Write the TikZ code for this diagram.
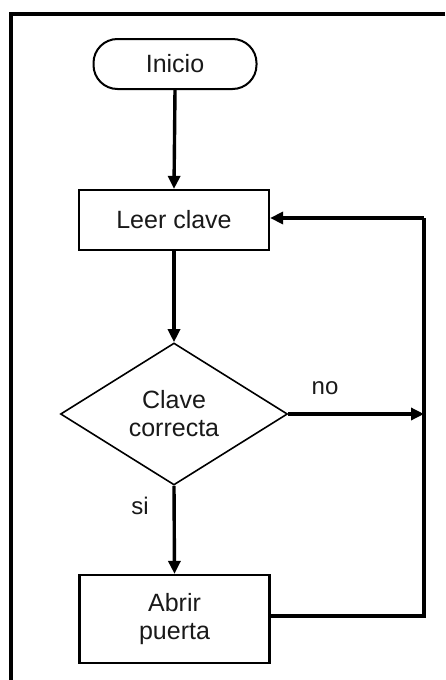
\documentclass[tikz,border=0pt]{standalone}
\usepackage{fontspec}
\setmainfont{Liberation Sans}
\usetikzlibrary{shapes.geometric,arrows.meta}

\tikzset{
  flowtext/.style={font=\fontsize{25}{28}\selectfont, text=black!90, align=center, inner sep=0pt},
  terminal/.style={flowtext, draw, line width=2pt, rounded corners=24pt,
    minimum width=163pt, minimum height=50pt},
  procbox/.style={flowtext, draw, line width=2.2pt, minimum width=190pt},
  decision/.style={flowtext, draw, diamond, line width=1.6pt,
    minimum width=227pt, minimum height=142pt},
  flowarrow/.style={line width=3.4pt, -{Triangle[length=13pt,width=12pt]}},
  flowline/.style={line width=3.4pt},
  branchlabel/.style={font=\fontsize{24}{26}\selectfont, text=black!90, inner sep=0pt}
}

\begin{document}
\begin{tikzpicture}[x=1pt,y=-1pt]
  \useasboundingbox (0,0) rectangle (445,680);

  % outer frame (top and left edges)
  \draw[line width=3.4pt] (445,14) -- (11,14) -- (11,680);

  % flowchart nodes
  \node[terminal] (inicio) at (175,64) {Inicio};
  \node[procbox, minimum height=60pt] (leer) at (174,220) {Leer clave};
  \node[decision] (clave) at (174,414) {Clave\\correcta};
  \node[procbox, minimum height=88pt] (abrir) at (174.5,619) {Abrir\\puerta};

  % loop-back corners on the right
  \coordinate (rtop) at (424,218);
  \coordinate (rbot) at (424,616);
  \coordinate (rmid) at (424,414);

  % connectors
  \draw[flowarrow] (inicio.south) -- (leer.north);
  \draw[flowarrow] (leer.south) -- (clave.north);
  \draw[flowarrow] (clave.south) -- (abrir.north);
  \draw[flowarrow] (clave.east) -- (rmid);
  \draw[flowline, line join=miter] (abrir.east |- rbot) -- (rbot) -- (rtop);
  \draw[flowarrow] (rtop) -- (leer.east |- rtop);

  % branch labels
  \node[branchlabel] (lblno) at (325,388) {no};
  \node[branchlabel] (lblsi) at (140,506) {si};
\end{tikzpicture}
\end{document}
